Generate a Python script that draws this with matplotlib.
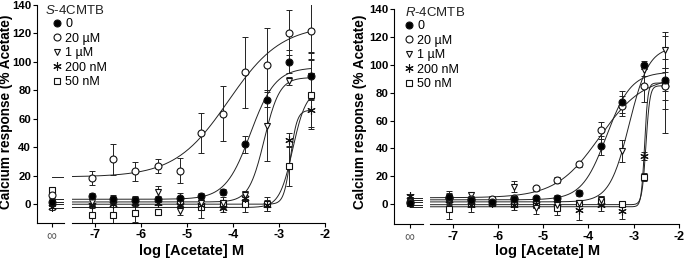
import numpy as np
import matplotlib.pyplot as plt
from matplotlib.lines import Line2D

plt.rcParams['font.family'] = ['Liberation Sans', 'DejaVu Sans']
plt.rcParams['axes.unicode_minus'] = False
plt.rcParams['mathtext.fontset'] = 'custom'
plt.rcParams['mathtext.it'] = 'Liberation Sans:italic'
plt.rcParams['mathtext.rm'] = 'Liberation Sans'

# log [Acetate] M (3-fold dilutions from 5 mM)
log_conc = [-7.07, -6.60, -6.12, -5.64, -5.16, -4.69, -4.21, -3.73, -3.26, -2.78, -2.30]
xticks = [-7, -6, -5, -4, -3, -2]
yticks = [0, 20, 40, 60, 80, 100, 120, 140]
labels = ['0', '20 µM', '1 µM', '200 nM', '50 nM']

# ---- S-4CMTB (left) ----
s_zero = [1.5, 6.5, 0.5, -2.0, 10.0]          # value without acetate (plotted at ∞)
s_0 = [5.5, 3.5, 2.5, 3.8, 4.5, 5.5, 8.2, 42, 73.5, 100, 90]
s_0_err = [2, 2, 2, 2, 3, 2, 2, 6, 5, 8, 16]
s_20u = [18.5, 31.5, 23, 26.5, 23.5, 50, 63.5, 92.5, 97.5, 120.5, 122]
s_20u_err = [5, 11, 6.5, 5, 8.5, 14, 19.5, 25, 26, 16, 20]
s_1u = [1.5, 3, 2.5, 8.5, -5, 0.5, 0.5, 6, 55, 86.5, 90]
s_1u_err = [2, 3, 3, 4, 3, 2, 2, 3, 25, 3, 17]
s_200n = [-1, 0, 0.5, 1, -1, -1, -3, 4, -1, 45, 66]
s_200n_err = [2, 2, 2, 2, 2, 3, 3, 5, 4, 5, 12]
s_50n = [-8, -8, -6.5, -6, 2, -2, 1, 0, 0, 26.5, 77]
s_50n_err = [7, 6, 6, 1, 3, 8, 4, 6, 5, 14, 24]
# fitted curves: bottom, top, logEC50, hill
s_bottom = [3.3, 19, 1.4, -0.2, -2.5]
s_top = [96, 126, 89, 66, 80]
s_ec50 = [-3.62, -4.10, -3.32, -2.75, -2.70]
s_hill = [1.6, 0.75, 2.6, 6, 3]

# ---- R-4CMTB (right) ----
r_zero = [1.0, 1.5, 2.0, 5.5, 1.0]
r_0 = [5.3, 2.9, 1.7, 3.4, 4.1, 4.6, 8.1, 42, 73.6, 100, 89.5]
r_0_err = [4, 2, 2, 2, 2, 2, 2, 7, 8, 3, 8]
r_20u = [4, 3.5, 3.6, 4, 11.3, 17.3, 28.5, 53, 70.5, 85, 85]
r_20u_err = [3, 2, 2, 2, 2, 2, 2, 6, 7, 12, 10]
r_1u = [4, 6.5, 3, 12.5, -3, -1, 1, 3, 38.3, 96, 110.8]
r_1u_err = [4, 2, 2, 4, 4, 3, 2, 3, 8, 4, 13]
r_200n = [3, -1, 1, -1, 0, 1, -4.5, -1, -5, 34.5, 86]
r_200n_err = [4, 5, 2, 3, 3, 3, 7, 4, 6, 3, 18]
r_50n = [-3.8, 0.5, 1, 0.5, 0, -3.1, 0.5, 2.4, 0, 19.2, 86]
r_50n_err = [7, 3, 2, 3, 3, 5, 2, 3, 2, 3, 35]
r_bottom = [3, 4.5, 1.5, -2, -0.5]
r_top = [95, 92, 113, 87, 85]
r_ec50 = [-3.60, -3.75, -3.10, -2.76, -2.73]
r_hill = [1.6, 0.9, 2.0, 12, 10]

styles = [
    dict(marker='o', mfc='black', ms=5),
    dict(marker='o', mfc='white', ms=5),
    dict(marker='v', mfc='white', ms=5),
    dict(marker=(6, 2, 0), mfc='none', ms=6),
    dict(marker='s', mfc='white', ms=5),
]


def curve(x, bottom, top, ec50, hill):
    return bottom + (top - bottom) / (1 + 10 ** ((ec50 - x) * hill))


def panel(rect_inf, rect_main, ylim, zero, vals, errs, fit, title, ylabel_x, xlabel_x,
          title_xy, leg_xy):
    ax0 = fig.add_axes(rect_inf)
    ax = fig.add_axes(rect_main, sharey=ax0)
    x_inf = 0.55
    xs = np.linspace(-7.5, log_conc[-1], 300)
    for i in range(5):
        b, t, e, h = fit[0][i], fit[1][i], fit[2][i], fit[3][i]
        ax.plot(xs, curve(xs, b, t, e, h), color='#222222', lw=0.7, zorder=2)
        ax0.plot([x_inf, 1.0], [b, b], color='#222222', lw=0.7, zorder=2)
    for i in reversed(range(5)):
        st = styles[i]
        ax.errorbar(log_conc, vals[i], yerr=errs[i], fmt='none', ecolor='#222222',
                    elinewidth=0.7, capsize=2.2, capthick=0.7, zorder=3)
        ax.plot(log_conc, vals[i], ls='none', marker=st['marker'], ms=st['ms'],
                mfc=st['mfc'], mec='#111111', mew=0.8, zorder=4)
        ax0.errorbar([x_inf], [zero[i]], yerr=[2], fmt='none', ecolor='#222222',
                     elinewidth=0.7, capsize=2.2, capthick=0.7, zorder=3)
        ax0.plot([x_inf], [zero[i]], ls='none', marker=st['marker'], ms=st['ms'],
                 mfc=st['mfc'], mec='#111111', mew=0.8, zorder=4)

    ax0.set_xlim(0, 1)
    ax0.set_ylim(*ylim)
    ax0.set_xticks([x_inf])
    ax0.set_xticklabels(['∞'], fontsize=10, color='#555555')
    ax0.set_yticks(yticks)
    ax0.set_yticklabels([str(v) for v in yticks], fontsize=8.2, fontweight='bold')
    ax0.spines[['top', 'right']].set_visible(False)
    ax.spines[['top', 'right', 'left']].set_visible(False)
    ax.tick_params(axis='y', left=False, labelleft=False)
    ax.set_xlim(-7.5, -2)
    ax.set_xticks(xticks)
    ax.set_xticklabels([str(v) for v in xticks], fontsize=9, fontweight='bold')
    for a in (ax0, ax):
        for s in a.spines.values():
            s.set_linewidth(0.8)
        a.tick_params(direction='out', length=3, width=0.8, pad=1.5)
        a.set_facecolor('none')
    ax0.tick_params(axis='y', pad=1)

    fig.text(ylabel_x, 0.57, 'Calcium response (% Acetate)', rotation=90,
             ha='center', va='center', fontsize=9.8, fontweight='bold')
    fig.text(xlabel_x, 0.033, 'log [Acetate] M', ha='center', va='center',
             fontsize=10.5, fontweight='bold')
    fig.text(title_xy[0], title_xy[1], title, ha='left', va='center', fontsize=9.5,
             color='#222222')

    handles = [Line2D([], [], ls='none', marker=s['marker'], ms=s['ms'], mfc=s['mfc'],
                      mec='#111111', mew=0.8) for s in styles]
    ax.legend(handles, labels, loc='upper left',
              bbox_to_anchor=leg_xy, bbox_transform=fig.transFigure,
              frameon=False, fontsize=9, handlelength=0.7, handletextpad=0.3,
              borderpad=0, borderaxespad=0, labelspacing=0.2)


fig = plt.figure(figsize=(6.85, 2.6), dpi=100)

panel([0.0536, 0.1423, 0.0399, 0.8385], [0.1051, 0.1423, 0.3693, 0.8385], (-13.4, 140),
      s_zero, [s_0, s_20u, s_1u, s_200n, s_50n],
      [s_0_err, s_20u_err, s_1u_err, s_200n_err, s_50n_err],
      (s_bottom, s_top, s_ec50, s_hill), r'$\mathit{S}$-4CMTB', 0.0088, 0.28,
      (0.066, 0.96), (0.077, 0.93))

panel([0.5752, 0.1373, 0.0419, 0.8269], [0.6277, 0.1373, 0.3635, 0.8269], (-14.6, 140),
      r_zero, [r_0, r_20u, r_1u, r_200n, r_50n],
      [r_0_err, r_20u_err, r_1u_err, r_200n_err, r_50n_err],
      (r_bottom, r_top, r_ec50, r_hill), r'$\mathit{R}$-4CMTB', 0.526, 0.80,
      (0.591, 0.95), (0.5907, 0.922))

fig.savefig('out.png', dpi=100)
